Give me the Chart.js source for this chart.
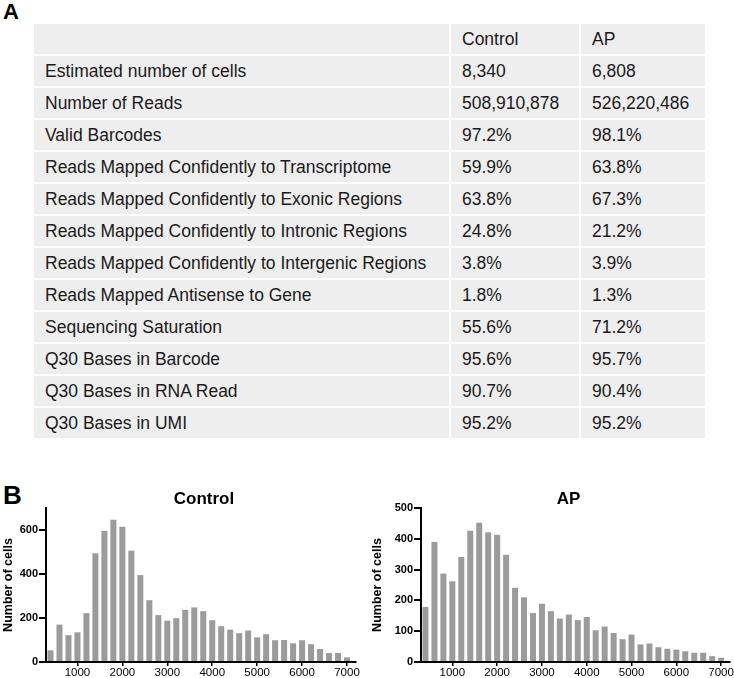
<!DOCTYPE html>
<html>
<head>
<meta charset="utf-8">
<script src="https://cdn.jsdelivr.net/npm/chart.js"></script>
<style>
  body { margin: 0; width: 734px; height: 678px; background: #fff; position: relative; overflow: hidden;
         font-family: "Liberation Sans", Arial, sans-serif; }
  .tag { position: absolute; font-weight: bold; color: #000; line-height: 1; }
  #stats { position: absolute; left: 34px; top: 24px; display: grid;
           grid-template-columns: 415px 128px 124px; grid-auto-rows: 30px; gap: 2px;
           font-size: 17.5px; color: #1a1a1a; }
  #stats div { background: #eeeeee; padding-left: 11px; line-height: 30px; white-space: nowrap; }
  .box { position: absolute; top: 470px; height: 208px; }
</style>
</head>
<body>
<div class="tag" style="left:3px; top:1px; font-size:22px;">A</div>
<div id="stats"></div>
<div class="tag" style="left:3px; top:482px; font-size:26px;">B</div>
<div class="box" style="left:0; width:364px;"><canvas id="ctrlChart"></canvas></div>
<div class="box" style="left:364px; width:370px;"><canvas id="apChart"></canvas></div>
<script>
  // table A
  let groups = ["Control", "AP"];
  let metrics = ["Estimated number of cells", "Number of Reads", "Valid Barcodes",
    "Reads Mapped Confidently to Transcriptome", "Reads Mapped Confidently to Exonic Regions",
    "Reads Mapped Confidently to Intronic Regions", "Reads Mapped Confidently to Intergenic Regions",
    "Reads Mapped Antisense to Gene", "Sequencing Saturation", "Q30 Bases in Barcode",
    "Q30 Bases in RNA Read", "Q30 Bases in UMI"];
  let controlStats = ["8,340", "508,910,878", "97.2%", "59.9%", "63.8%", "24.8%", "3.8%",
    "1.8%", "55.6%", "95.6%", "90.7%", "95.2%"];
  let apStats = ["6,808", "526,220,486", "98.1%", "63.8%", "67.3%", "21.2%", "3.9%",
    "1.3%", "71.2%", "95.7%", "90.4%", "95.2%"];

  // histograms B
  let binCenters = [400, 600, 800, 1000, 1200, 1400, 1600, 1800, 2000, 2200, 2400, 2600,
    2800, 3000, 3200, 3400, 3600, 3800, 4000, 4200, 4400, 4600, 4800, 5000, 5200, 5400,
    5600, 5800, 6000, 6200, 6400, 6600, 6800, 7000];
  let controlCounts = [53, 170, 122, 135, 222, 494, 595, 647, 615, 506, 395, 281, 213, 188,
    199, 237, 248, 231, 190, 163, 147, 131, 143, 112, 126, 99, 100, 85, 99, 81, 59, 41, 41, 21];
  let apCounts = [179, 390, 287, 262, 341, 426, 452, 421, 413, 348, 241, 210, 159, 189, 165,
    141, 154, 136, 146, 103, 115, 94, 74, 89, 57, 60, 48, 43, 40, 35, 30, 30, 19, 14];
  let xTicks = [1000, 2000, 3000, 4000, 5000, 6000, 7000];
  let controlYTicks = [0, 200, 400, 600];
  let apYTicks = [0, 100, 200, 300, 400, 500];

  const stats = document.getElementById('stats');
  const addCell = txt => {
    const d = document.createElement('div');
    d.textContent = txt;
    stats.appendChild(d);
  };
  addCell('');
  groups.forEach(g => addCell(g));
  metrics.forEach((m, i) => {
    addCell(m);
    addCell(controlStats[i]);
    addCell(apStats[i]);
  });

  const FONT = '"Liberation Sans", Arial, sans-serif';

  // title centred over the plot area
  const areaTitle = {
    id: 'areaTitle',
    afterDraw(chart, args, opts) {
      const { ctx, chartArea } = chart;
      ctx.save();
      ctx.font = 'bold 17px ' + FONT;
      ctx.fillStyle = '#000';
      ctx.textAlign = 'center';
      ctx.textBaseline = 'middle';
      ctx.fillText(opts.text, (chartArea.left + chartArea.right) / 2 + opts.dx, opts.y);
      ctx.restore();
    }
  };

  function makeHist(id, title, counts, yMax, yTicks, yWidth, rightPad, dx, titlePad) {
    new Chart(document.getElementById(id), {
      type: 'bar',
      data: {
        datasets: [{
          data: binCenters.map((x, i) => ({ x: x, y: counts[i] })),
          backgroundColor: '#9b9b9b',
          barPercentage: 0.67,
          categoryPercentage: 1
        }]
      },
      options: {
        responsive: true,
        maintainAspectRatio: false,
        animation: false,
        layout: { padding: { top: 38, right: rightPad, left: 0, bottom: 0 } },
        plugins: {
          legend: { display: false },
          tooltip: { enabled: false },
          title: { display: false },
          areaTitle: { text: title, y: 29, dx: dx }
        },
        scales: {
          x: {
            type: 'linear',
            min: 300,
            max: 7200,
            offset: false,
            afterBuildTicks: s => { s.ticks = xTicks.map(v => ({ value: v })); },
            afterFit: s => { s.height = 16; },
            border: { display: true, color: '#000', width: 2 },
            grid: { drawOnChartArea: false, drawTicks: true, tickLength: 4, color: '#000', lineWidth: 1.5, offset: false },
            ticks: {
              color: '#000', padding: 0, maxRotation: 0,
              font: { family: FONT, size: 11.5 },
              callback: v => String(v)
            }
          },
          y: {
            min: 0,
            max: yMax,
            afterBuildTicks: s => { s.ticks = yTicks.map(v => ({ value: v })); },
            afterFit: s => { s.width = yWidth; },
            border: { display: true, color: '#000', width: 2 },
            grid: { drawOnChartArea: false, drawTicks: true, tickLength: 7, color: '#000', lineWidth: 2 },
            ticks: { color: '#000', padding: 1, font: { family: FONT, size: 11, weight: 'bold' } },
            title: {
              display: true,
              text: 'Number of cells',
              color: '#000',
              padding: { top: titlePad, bottom: 0 },
              font: { family: FONT, size: 12.5, weight: 'bold' }
            }
          }
        }
      },
      plugins: [areaTitle]
    });
  }

  makeHist('ctrlChart', 'Control', controlCounts, 700, controlYTicks, 46, 8, 3, 1);
  makeHist('apChart', 'AP', apCounts, 500, apYTicks, 57, 3, -7, 6);
</script>
</body>
</html>
